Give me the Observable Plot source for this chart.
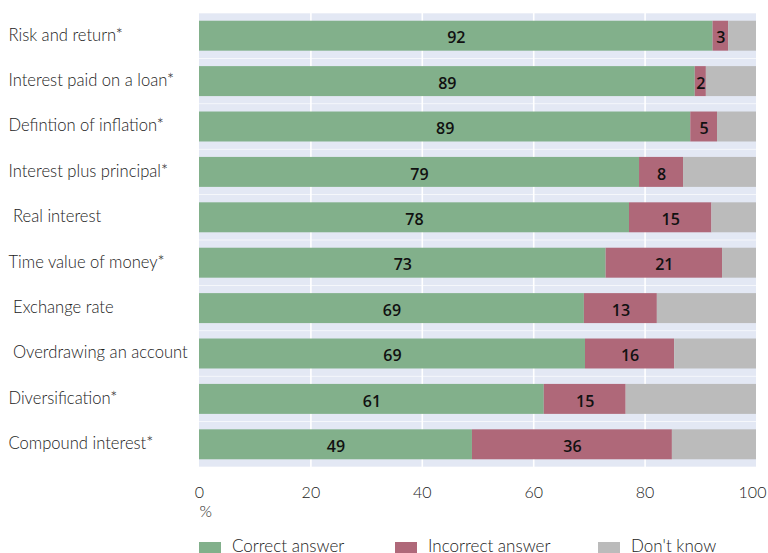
<!DOCTYPE html>
<html>
<head>
<meta charset="utf-8">
<script src="https://cdn.jsdelivr.net/npm/d3@7"></script>
<script src="https://cdn.jsdelivr.net/npm/@observablehq/plot@0.6"></script>
<style>
  html, body { margin: 0; padding: 0; background: #fff; overflow: hidden; }
  #wrap { position: relative; width: 768px; height: 553px; }
  #legend { position: absolute; left: 0; top: 536px; width: 768px; height: 20px; font-family: Lato, sans-serif; font-weight: 300; font-size: 17px; color: #222; }
  .sw { position: absolute; top: 6px; width: 22px; height: 12px; }
  .lb { position: absolute; top: 0; line-height: 20px; white-space: nowrap; }
</style>
</head>
<body>
<div id="wrap">
  <div id="chart"></div>
  <div id="legend"></div>
</div>
<script>
// ---- data ----
const categories = [
  "Risk and return*",
  "Interest paid on a loan*",
  "Defintion of inflation*",
  "Interest plus principal*",
  "Real interest",
  "Time value of money*",
  "Exchange rate",
  "Overdrawing an account",
  "Diversification*",
  "Compound interest*"
];
const indented = ["Real interest", "Exchange rate", "Overdrawing an account"];
// segment widths (%)
const correct   = [92.2, 89.0, 88.2, 79.0, 77.2, 73.0, 69.1, 69.3, 61.9, 49.0];
const incorrect = [2.8, 2.0, 4.8, 7.9, 14.8, 20.9, 13.1, 16.0, 14.7, 35.9];
// printed labels
const correctLabels   = [92, 89, 89, 79, 78, 73, 69, 69, 61, 49];
const incorrectLabels = [3, 2, 5, 8, 15, 21, 13, 16, 15, 36];
const series = ["Correct answer", "Incorrect answer", "Don't know"];
const colors = ["#82b08b", "#af6879", "#bbbbbb"];
const xTicks = [0, 20, 40, 60, 80, 100];
const gridTicks = [20, 40, 60, 80];

// ---- table ----
const rows = [];
categories.forEach((c, i) => {
  rows.push({cat: c, key: series[0], value: correct[i], label: String(correctLabels[i])});
  rows.push({cat: c, key: series[1], value: incorrect[i], label: String(incorrectLabels[i])});
  rows.push({cat: c, key: series[2], value: 100 - correct[i] - incorrect[i], label: null});
});

const chart = Plot.plot({
  width: 768,
  height: 530,
  marginLeft: 199,
  marginRight: 12,
  marginTop: 13,
  marginBottom: 63,
  style: {fontFamily: "Lato, sans-serif", fontWeight: 300, fontSize: "17px", color: "#222", background: "white", overflow: "visible"},
  x: {domain: [0, 100], ticks: xTicks, label: null},
  y: {domain: categories, paddingInner: 0.34, paddingOuter: 0.17, round: false, label: null},
  color: {domain: series, range: colors},
  marks: [
    Plot.barX(categories, {y: d => d, x1: 0, x2: 100, fill: "#e3e8f4", insetTop: -7.4, insetBottom: -7.4}),
    Plot.ruleX(gridTicks, {stroke: "white", strokeWidth: 1.6}),
    Plot.barX(rows, Plot.stackX({y: "cat", x: "value", fill: "key", order: null})),
    Plot.text(rows, Plot.stackX({y: "cat", x: "value", text: "label", order: null,
      fill: "#111", fontFamily: "'Open Sans', sans-serif", fontSize: 16, fontWeight: 600, dy: 2})),
    Plot.axisY({tickSize: 0, tickPadding: 191, textAnchor: "start", fontSize: 16.6, fontWeight: 300, dy: -1,
      tickFormat: d => indented.includes(d) ? "\u00a0" + d : d}),
    Plot.axisX(xTicks.slice(0, -1), {tickSize: 0, tickPadding: 19, fontSize: 16, fontWeight: 300, label: null}),
    Plot.axisX(xTicks.slice(-1), {tickSize: 0, tickPadding: 19, fontSize: 16, fontWeight: 300, dx: -4, label: null}),
    Plot.text(["%"], {frameAnchor: "bottom-left", text: d => d, dy: 49, fontSize: 16, fontWeight: 300, textAnchor: "start"})
  ]
});
document.getElementById("chart").appendChild(chart);

// ---- legend ----
const legendX = [199, 395, 598];
const legend = document.getElementById("legend");
series.forEach((s, i) => {
  const sw = document.createElement("div");
  sw.className = "sw";
  sw.style.left = legendX[i] + "px";
  sw.style.background = colors[i];
  legend.appendChild(sw);
  const lb = document.createElement("div");
  lb.className = "lb";
  lb.style.left = (legendX[i] + 33) + "px";
  lb.textContent = s;
  legend.appendChild(lb);
});
</script>
</body>
</html>
